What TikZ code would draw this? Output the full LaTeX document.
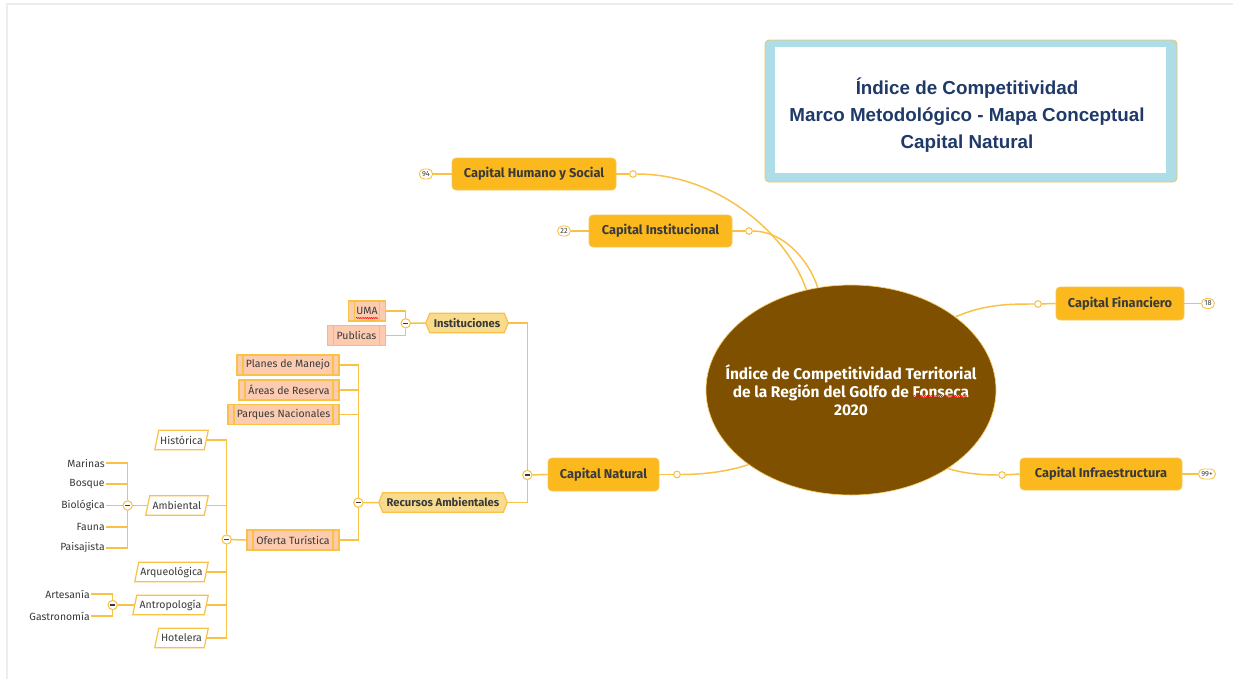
\documentclass[tikz,border=0pt]{standalone}
\usepackage{fontspec}
\setmainfont{Fira Sans}
\newfontfamily\titlefont{Liberation Sans}
\usetikzlibrary{shapes.geometric,decorations.pathmorphing,backgrounds}
\definecolor{lineC}{HTML}{F9C146}
\definecolor{topicF}{HTML}{FBB91E}
\definecolor{topicD}{HTML}{F7C65A}
\definecolor{hexF}{HTML}{F9DB8D}
\definecolor{peachF}{HTML}{FCCBB0}
\definecolor{txt}{HTML}{3A3A3A}
\definecolor{brownF}{HTML}{7F5000}
\definecolor{titleB}{HTML}{ADDDE6}
\definecolor{titleD}{HTML}{F0C468}
\definecolor{titleT}{HTML}{1F3A68}
\definecolor{frameC}{HTML}{EDEDED}
\newcommand\hexpath[1]{(#1.west) -- ([xshift=3pt]#1.north west) -- ([xshift=-3pt]#1.north east) -- (#1.east) -- ([xshift=-3pt]#1.south east) -- ([xshift=3pt]#1.south west) -- cycle}
\newcommand\parapath[1]{([xshift=1.5pt]#1.north west) -- ([xshift=1.5pt]#1.north east) -- ([xshift=-1.5pt]#1.south east) -- ([xshift=-1.5pt]#1.south west) -- cycle}
\begin{document}
\begin{tikzpicture}[x=0.75pt,y=-0.75pt,
  conn/.style={draw=lineC, line width=1.1pt},
  topic/.style={rounded corners=3pt, fill=topicF, draw=topicD, line width=0.5pt, text=txt,
    font=\fontsize{9.6}{11}\selectfont\bfseries, inner sep=0pt},
  dot/.style={circle, draw=lineC, fill=white, inner sep=0pt, minimum size=5pt, line width=0.8pt},
  pill/.style={rounded corners=3.5pt, draw=lineC, fill=white, text=txt, line width=0.7pt,
    font=\fontsize{5.5}{6}\selectfont, minimum height=7.5pt, inner xsep=2pt, inner ysep=0pt},
  minus/.style={circle, draw=lineC, fill=white, minimum size=7pt, inner sep=0pt, line width=0.8pt,
    path picture={\draw[txt, line width=0.9pt] ([xshift=-1.7pt]path picture bounding box.center) -- ([xshift=1.7pt]path picture bounding box.center);}},
  hexnode/.style={minimum height=14.25pt, inner sep=0pt, text=txt, font=\fontsize{8.4}{10}\selectfont\bfseries},
  peach/.style={draw=lineC, fill=peachF, line width=0.9pt, minimum height=15pt, inner sep=0pt, text=txt,
    font=\fontsize{7.9}{9}\selectfont,
    path picture={\draw[lineC, line width=0.9pt] ([xshift=4.5pt]path picture bounding box.north west) -- ([xshift=4.5pt]path picture bounding box.south west)
      ([xshift=-4.5pt]path picture bounding box.north east) -- ([xshift=-4.5pt]path picture bounding box.south east);}},
  para/.style={minimum height=14.25pt, inner sep=0pt, text=txt, font=\fontsize{7.9}{9}\selectfont},
  leaf/.style={anchor=east, inner xsep=0.8pt, inner ysep=1pt, text=txt, font=\fontsize{7.8}{9}\selectfont}
]
\useasboundingbox (0,0) rectangle (1233,679);
\draw[frameC, line width=1.3pt] (7,679) -- (7,4) -- (1233,4);

% title
\node[rounded corners=3pt, fill=titleB, draw=titleD, line width=0.6pt, minimum width=309pt, minimum height=106.5pt] (tbox) at (971,111) {};
\node[fill=white, minimum width=293.25pt, minimum height=94pt, inner sep=0pt] (tin) at (970.5,110) {};
\node[text=titleT, align=center, font=\titlefont\fontsize{14.1}{20.25}\selectfont\bfseries] (ttext) at (967,115) {Índice de Competitividad\\Marco Metodológico - Mapa Conceptual\\Capital Natural};

% central
\node[ellipse, fill=brownF, draw=lineC!80, line width=0.5pt, minimum width=217.5pt, minimum height=157.5pt, inner sep=0pt] (cen) at (851,390) {};
\node[text=white, align=center, inner sep=0pt, font=\fontsize{11.6}{13.5}\selectfont\bfseries] (centxt) at (cen.center)
  {Índice de Competitividad Territorial\\de la Región del Golfo de Fonseca\\2020};
\draw[red, line width=0.4pt, decorate, decoration={snake, amplitude=0.45pt, segment length=1.6pt}] (912,396) -- (967,396);

% main topics
\node[topic, minimum width=123pt, minimum height=24pt] (hum) at (534,174) {Capital Humano y Social};
\node[topic, minimum width=107.25pt, minimum height=24pt] (ins) at (660.5,231) {Capital Institucional};
\node[topic, minimum width=96pt, minimum height=24.75pt] (fin) at (1120,303.5) {Capital Financiero};
\node[topic, minimum width=121.5pt, minimum height=24pt] (inf) at (1101,474) {Capital Infraestructura};
\node[topic, minimum width=83.25pt, minimum height=24.75pt] (nat) at (603.5,474.5) {Capital Natural};

\node[pill] (p94) at (426,174) {94};
\node[pill] (p22) at (564,231) {22};
\node[pill] (p18) at (1208,303.5) {18};
\node[pill] (p99) at (1207,474) {99+};
\draw[conn] (p94) -- (hum);
\draw[conn] (p22) -- (ins);
\draw[conn] (fin) -- (p18);
\draw[conn] (inf) -- (p99);

\node[dot] (dh) at (633,174) {};
\node[dot] (di) at (749,231) {};
\node[dot] (df) at (1038,304) {};
\node[dot] (dinf) at (1002,475) {};
\node[dot] (dn) at (677,474.5) {};
\draw[conn] (hum.east) -- (dh);
\draw[conn] (ins.east) -- (di);
\draw[conn] (df) -- (fin.west);
\draw[conn] (dinf) -- (inf.west);
\draw[conn] (nat.east) -- (dn);
\draw[conn] (dh) .. controls (720,174) and (788,236) .. (cen.114);
\draw[conn] (di) .. controls (782,231) and (808,258) .. (cen.108);
\draw[conn] (cen.35) .. controls (985,304) and (1010,304) .. (df);
\draw[conn] (cen.-39) .. controls (965,474) and (985,475) .. (dinf);
\draw[conn] (dn) .. controls (705,474.5) and (730,471) .. (cen.216);

% capital natural branch
\node[minus] (mnat) at (527.3,475) {};
\draw[conn] (nat.west) -- (mnat);
\node[hexnode, minimum width=61.5pt] (insti) at (467,323) {Instituciones};
\node[hexnode, minimum width=96pt] (recu) at (443,502.5) {Recursos Ambientales};
\draw[conn] (mnat.north) |- (insti.east);
\draw[conn] (mnat.south) |- (recu.east);

% instituciones
\node[minus] (mins) at (405.7,323.3) {};
\node[peach, minimum width=28pt] (uma) at (367,311) {UMA};
\node[peach, minimum width=43.5pt] (pub) at (356.5,335.3) {Publicas};
\draw[red, line width=0.4pt, decorate, decoration={snake, amplitude=0.45pt, segment length=1.6pt}] (356,318) -- (378,318);
\draw[conn] (mins) -- (insti.west);
\draw[conn] (uma.east) -| (mins.north);
\draw[conn] (pub.east) -| (mins.south);

% recursos ambientales
\node[minus] (mrec) at (358.3,502.7) {};
\node[peach, minimum width=76.5pt] (plan) at (288,365) {Planes de Manejo};
\node[peach, minimum width=75pt] (area) at (289,390) {Áreas de Reserva};
\node[peach, minimum width=83.25pt] (parq) at (283.5,414.5) {Parques Nacionales};
\node[peach, minimum width=69pt] (ofer) at (293,540) {Oferta Turística};
\draw[conn] (mrec) -- (recu.west);
\draw[conn] (plan.east) -| (mrec.north);
\draw[conn] (area.east) -- (area.east -| mrec);
\draw[conn] (parq.east) -- (parq.east -| mrec);
\draw[conn] (ofer.east) -| (mrec.south);

% oferta turistica
\node[minus] (mof) at (226.7,539.5) {};
\node[para, minimum width=36.75pt] (hist) at (181.5,440) {Histórica};
\node[para, minimum width=43.5pt] (amb) at (177,505.5) {Ambiental};
\node[para, minimum width=51.75pt] (arq) at (171.5,572) {Arqueológica};
\node[para, minimum width=53.25pt] (ant) at (170.5,605) {Antropología};
\node[para, minimum width=36.75pt] (hot) at (181.5,638) {Hotelera};
\draw[conn] (ofer.west) -- (mof);
\draw[conn] (hist.east) -| (mof.north);
\draw[conn] (amb.east) -- (amb.east -| mof);
\draw[conn] (arq.east) -- (arq.east -| mof);
\draw[conn] (ant.east) -- (ant.east -| mof);
\draw[conn] (hot.east) -| (mof.south);

% ambiental
\node[minus] (mamb) at (127.7,505.5) {};
\node[leaf] (mar) at (106,463) {Marinas};
\node[leaf] (bos) at (106,484) {Bosque};
\node[leaf] (bio) at (106,505.5) {Biológica};
\node[leaf] (fau) at (106,527) {Fauna};
\node[leaf] (pai) at (106,548) {Paisajista};
\draw[conn] (mamb) -- (amb.west);
\draw[conn] (mar.east) -| (mamb.north);
\draw[conn] (bos.east) -- (bos.east -| mamb);
\draw[conn] (bio.east) -- (mamb.west);
\draw[conn] (fau.east) -- (fau.east -| mamb);
\draw[conn] (pai.east) -| (mamb.south);

% antropologia
\node[minus] (mant) at (112.7,605) {};
\node[leaf] (art) at (91,594) {Artesanía};
\node[leaf] (gas) at (91,616) {Gastronomía};
\draw[conn] (mant) -- (ant.west);
\draw[conn] (art.east) -| (mant.north);
\draw[conn] (gas.east) -| (mant.south);

\begin{scope}[on background layer]
  \fill[white] (0,0) rectangle (1233,679);
  \draw[fill=hexF, draw=lineC, line width=0.9pt] \hexpath{insti};
  \draw[fill=hexF, draw=lineC, line width=0.9pt] \hexpath{recu};
  \foreach \n in {hist,amb,arq,ant,hot}{
    \draw[fill=white, draw=lineC, line width=0.9pt] \parapath{\n};
  }
\end{scope}
\end{tikzpicture}
\end{document}
